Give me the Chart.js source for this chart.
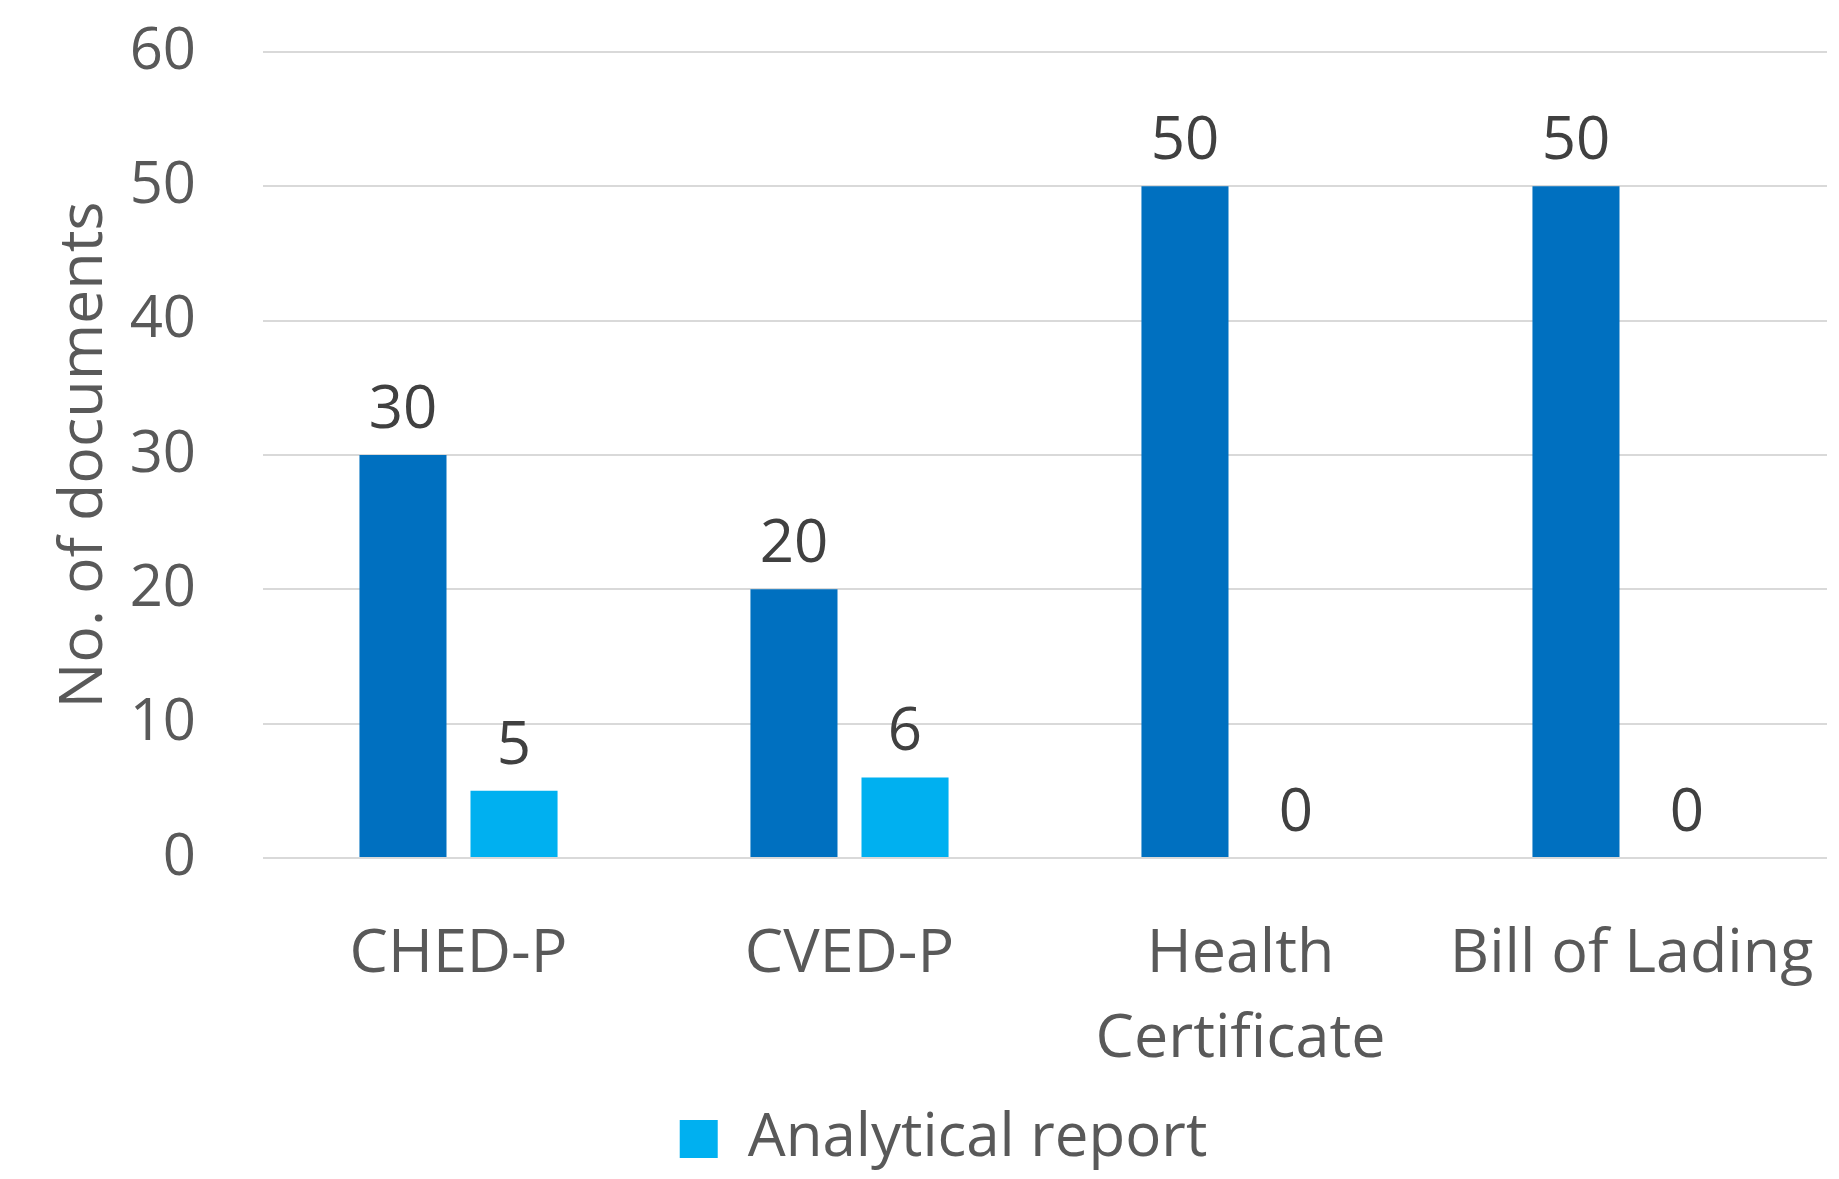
<!DOCTYPE html>
<html>
<head>
<meta charset="utf-8">
<script src="https://cdn.jsdelivr.net/npm/chart.js@4"></script>
<style>
  html, body { margin: 0; padding: 0; background: #fff; }
  #wrap { width: 1839px; height: 1179px; }
</style>
</head>
<body>
<div id="wrap"><canvas id="grafico" width="1839" height="1179"></canvas></div>
<script>
// categorias e valores
const categorias = ['CHED-P', 'CVED-P', ['Health', 'Certificate'], 'Bill of Lading'];
const documentos = [30, 20, 50, 50];
const relatorios = [5, 6, 0, 0];
const ticksY = [0, 10, 20, 30, 40, 50, 60];

const fonte = 'Open Sans';

// rótulos de valor em cima das barras
const rotulosValor = {
  id: 'rotulosValor',
  afterDatasetsDraw(chart) {
    const ctx = chart.ctx;
    ctx.save();
    ctx.font = '60px "' + fonte + '"';
    ctx.fillStyle = '#404040';
    ctx.textAlign = 'center';
    ctx.textBaseline = 'middle';
    chart.data.datasets.forEach((ds, i) => {
      chart.getDatasetMeta(i).data.forEach((bar, j) => {
        ctx.fillText(ds.data[j], bar.x, bar.y - 44);
      });
    });
    ctx.restore();
  }
};

const config = {
  type: 'bar',
  data: {
    labels: categorias,
    datasets: [{
      label: 'Documents',
      data: documentos,
      backgroundColor: '#0070C0',
      categoryPercentage: 0.568,
      barPercentage: 0.784
    }, {
      label: 'Analytical report',
      data: relatorios,
      backgroundColor: '#00B0F0',
      categoryPercentage: 0.568,
      barPercentage: 0.784
    }]
  },
  options: {
    responsive: false,
    animation: false,
    layout: { padding: { left: 60, right: 12, top: 52, bottom: 0 } },
    plugins: {
      tooltip: { enabled: false },
      legend: {
        position: 'bottom',
        labels: {
          filter: item => item.datasetIndex === 1,
          boxWidth: 38,
          boxHeight: 38,
          color: '#595959',
          font: { family: fonte, size: 60 }
        }
      }
    },
    scales: {
      x: {
        grid: { display: false },
        border: { display: false },
        ticks: {
          color: '#595959',
          font: { family: fonte, size: 61, lineHeight: 1.38 },
          padding: 47,
          maxRotation: 0,
          autoSkip: false
        },
        afterFit: s => { s.height = 241; s.paddingLeft = 0; s.paddingRight = 0; }
      },
      y: {
        min: 0,
        max: 60,
        afterBuildTicks: s => { s.ticks = ticksY.map(v => ({ value: v })); },
        grid: { color: '#D9D9D9', lineWidth: 2, drawTicks: false },
        border: { display: false },
        ticks: {
          color: '#595959',
          font: { family: fonte, size: 58 },
          padding: 67
        },
        title: {
          display: true,
          text: 'No. of documents',
          color: '#595959',
          font: { family: fonte, size: 61 },
          padding: { top: -12, bottom: 0 }
        },
        afterFit: s => { s.width = 203; s.paddingTop = 0; s.paddingBottom = 0; }
      }
    }
  },
  plugins: [rotulosValor]
};

const ctx = document.getElementById('grafico').getContext('2d');
const grafico = new Chart(ctx, config);
</script>
</body>
</html>
